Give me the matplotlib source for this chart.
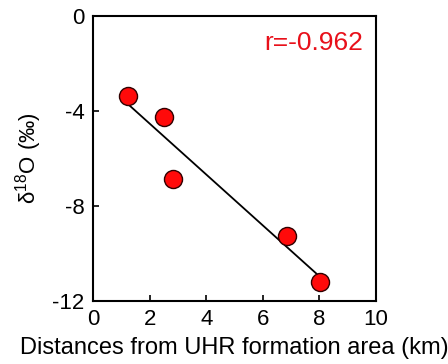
import numpy as np
import matplotlib
matplotlib.use("Agg")
import matplotlib.pyplot as plt

plt.rcParams['font.family'] = ['Liberation Sans', 'DejaVu Sans']
plt.rcParams['axes.unicode_minus'] = False
plt.rcParams['mathtext.fontset'] = 'custom'
plt.rcParams['mathtext.rm'] = 'Liberation Sans'
plt.rcParams['mathtext.it'] = 'Liberation Sans:italic'
plt.rcParams['mathtext.bf'] = 'Liberation Sans:bold'

distance_km = [1.25, 2.52, 2.84, 6.86, 8.02]
delta18O = [-3.36, -4.27, -6.88, -9.26, -11.19]
x_ticks = [0, 2, 4, 6, 8, 10]
y_ticks = [0, -4, -8, -12]
r_label = "r=-0.962"

fig = plt.figure(figsize=(4.48, 3.64), dpi=100)
ax = fig.add_axes([93/448, 1 - 301/364, (376-93)/448, (301-16)/364])

slope, intercept = np.polyfit(distance_km, delta18O, 1)
xf = np.array([min(distance_km), max(distance_km)])
ax.plot(xf, slope*xf + intercept, color='black', lw=1.3, zorder=2)
ax.plot(distance_km, delta18O, 'o', ms=13, mfc='#ff0a0a', mec='#300000', mew=1.0, zorder=3)

ax.set_xlim(0, 10)
ax.set_ylim(-12, 0)
ax.set_xticks(x_ticks)
ax.set_yticks(y_ticks)
ax.tick_params(direction='in', length=4, width=1.2, labelsize=16, pad=6)
for s in ax.spines.values():
    s.set_linewidth(1.5)

ax.text(0.955, 0.905, r_label, transform=ax.transAxes, color='#e8101a', fontsize=19,
        ha='right', va='center')
ax.set_xlabel("Distances from UHR formation area (km)", fontsize=17, labelpad=5)
ax.set_ylabel("δ$^{\\mathrm{18}}$O (‰)", fontsize=16, labelpad=6,
              family=['Liberation Sans', 'DejaVu Sans'])

fig.savefig("out.png", dpi=100)
